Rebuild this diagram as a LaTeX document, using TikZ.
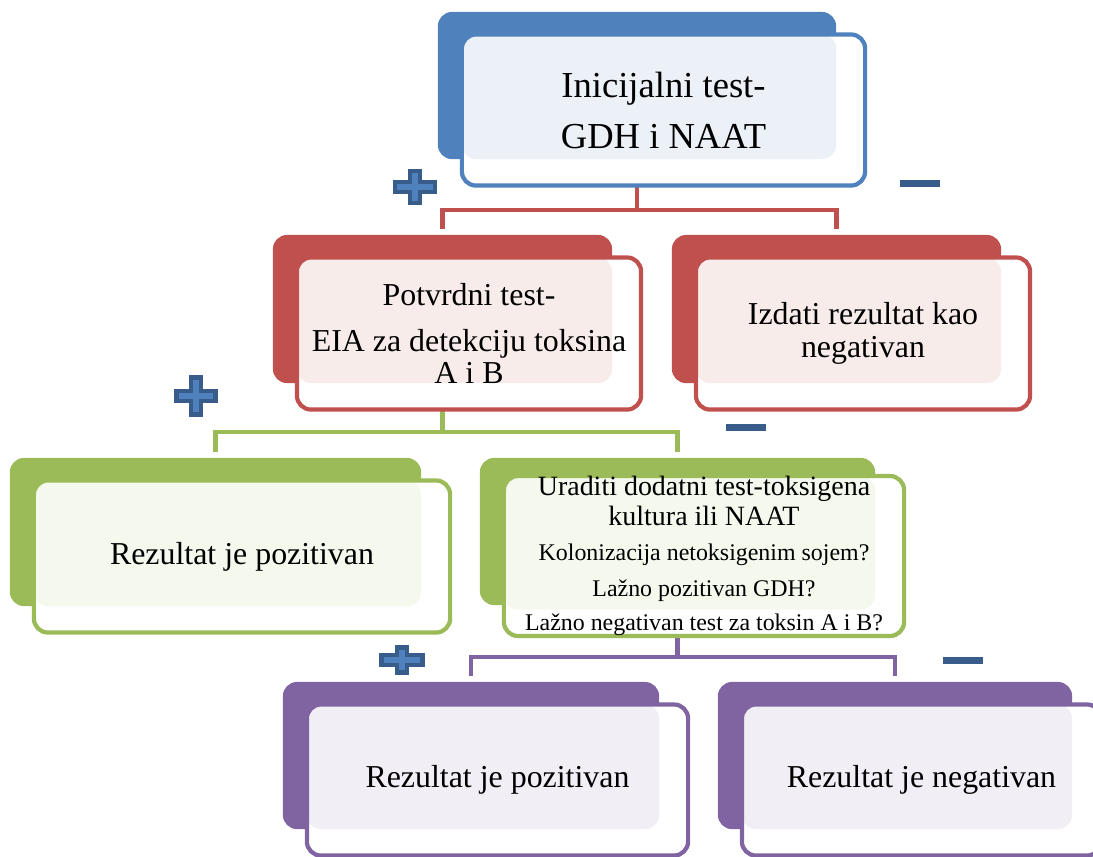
\documentclass[tikz,border=0pt]{standalone}
\usepackage{fontspec}
\setmainfont{Liberation Serif}
\definecolor{stepblue}{HTML}{4F81BD}
\definecolor{stepred}{HTML}{C0504D}
\definecolor{stepgreen}{HTML}{9BBB59}
\definecolor{steppurple}{HTML}{8064A2}
\definecolor{signdark}{HTML}{385D8A}
\tikzset{
  backbox/.style={rectangle, rounded corners=4pt, fill=#1, inner sep=0pt, outer sep=0pt},
  frontbox/.style={rectangle, rounded corners=4pt, draw=#1, line width=1.2pt, fill=white,
    outer sep=0pt, inner sep=0pt, align=center,
    path picture={\fill[#1!11!white, rounded corners=4pt] (path picture bounding box.north west)
      rectangle ([shift={(-29,-26.5)}]path picture bounding box.south east);}},
  link/.style={draw=#1, line width=1.15pt, shorten >=1.7pt},
}
\begin{document}
\begin{tikzpicture}[x=0.01cm, y=-0.01cm]
        \useasboundingbox (0,0) rectangle (1093,856);
        \clip (0,0) rectangle (1093,856);
        % Back boxes
        \node[backbox=stepblue, minimum width=3.98cm, minimum height=1.47cm] (initBack) at (637,85.5) {};
        \node[backbox=stepred, minimum width=3.39cm, minimum height=1.48cm] (confBack) at (442.5,309) {};
        \node[backbox=stepred, minimum width=3.29cm, minimum height=1.48cm] (negBack) at (836.5,309) {};
        \node[backbox=stepgreen, minimum width=4.11cm, minimum height=1.48cm] (posBack) at (215.5,532) {};
        \node[backbox=stepgreen, minimum width=3.95cm, minimum height=1.47cm] (extraBack) at (677.5,531.5) {};
        \node[backbox=steppurple, minimum width=3.76cm, minimum height=1.47cm] (finposBack) at (471,755.5) {};
        \node[backbox=steppurple, minimum width=3.54cm, minimum height=1.47cm] (finnegBack) at (895,755.5) {};
        % Connectors
        \draw[link=stepred] (initBack.south) -- ++(0,51) -| (confBack.north);
        \draw[link=stepred] (initBack.south) -- ++(0,51) -| (negBack.north);
        \draw[link=stepgreen] (confBack.south) -- ++(0,49) -| (posBack.north);
        \draw[link=stepgreen] (confBack.south) -- ++(0,49) -| (extraBack.north);
        \draw[link=steppurple] (extraBack.south) -- ++(0,52) -| (finposBack.north);
        \draw[link=steppurple] (extraBack.south) -- ++(0,52) -| (finnegBack.north);
        % Front boxes
        \node[frontbox=stepblue, minimum width=4.03cm, minimum height=1.51cm, font=\fontsize{10.4}{14.5}\selectfont]
            (init) at ([shift={(26.5,24.5)}]initBack.center) {Inicijalni test-\\GDH i NAAT};
        \node[frontbox=stepred, minimum width=3.44cm, minimum height=1.52cm, font=\fontsize{9.07}{9.3}\selectfont]
            (conf) at ([shift={(26.5,24.5)}]confBack.center) {Potvrdni test-\\[3.8pt]EIA za detekciju toksina\\A i B};
        \node[frontbox=stepred, minimum width=3.34cm, minimum height=1.52cm, font=\fontsize{9.07}{9.2}\selectfont]
            (neg) at ([shift={(26.5,24.5)}]negBack.center) {Izdati rezultat kao\\negativan};
        \node[frontbox=stepgreen, minimum width=4.16cm, minimum height=1.52cm, font=\fontsize{9.07}{10}\selectfont]
            (pos) at ([shift={(26.5,24.5)}]posBack.center) {Rezultat je pozitivan};
        \node[frontbox=stepgreen, minimum width=4.00cm, minimum height=1.51cm, font=\fontsize{6.8}{9.9}\selectfont]
            (extra) at ([shift={(26.5,24.5)}]extraBack.center)
            {{\fontsize{7.95}{9.9}\selectfont Uraditi dodatni test-toksigena}\\[-1.4pt]
             {\fontsize{7.95}{9.9}\selectfont kultura ili NAAT}\\
             Kolonizacija netoksigenim sojem?\\[0.3pt]
             Lažno pozitivan GDH?\\
             Lažno negativan test za toksin A i B?};
        \node[frontbox=steppurple, minimum width=3.81cm, minimum height=1.51cm, font=\fontsize{9.07}{10}\selectfont]
            (finpos) at ([shift={(26.5,24.5)}]finposBack.center) {Rezultat je pozitivan};
        \node[frontbox=steppurple, minimum width=3.59cm, minimum height=1.51cm, font=\fontsize{9.07}{10}\selectfont]
            (finneg) at ([shift={(26.5,24.5)}]finnegBack.center) {Rezultat je negativan};
        % Plus signs
        \foreach \x/\y/\a/\b in {415/187/20/16, 196/396/19.5/18.5, 402/660/20.5/12.5} {
            \filldraw[fill=stepblue, draw=signdark, line width=1.4pt]
                (\x-\a,\y-5) -- (\x-5,\y-5) -- (\x-5,\y-\b) -- (\x+5,\y-\b) -- (\x+5,\y-5) -- (\x+\a,\y-5)
                -- (\x+\a,\y+5) -- (\x+5,\y+5) -- (\x+5,\y+\b) -- (\x-5,\y+\b) -- (\x-5,\y+5) -- (\x-\a,\y+5) -- cycle;
        }
        % Minus signs
        \foreach \x/\y in {920/183, 746/427, 963/660} {
            \fill[signdark] (\x-20,\y-3.5) rectangle (\x+20,\y+3.5);
        }
    \end{tikzpicture}
\end{document}
